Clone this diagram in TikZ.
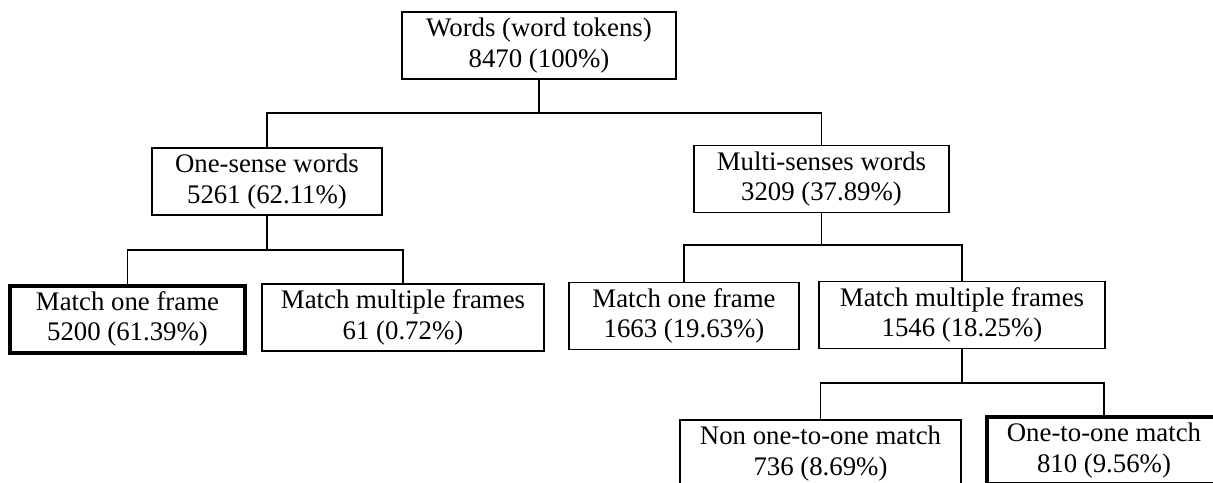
\documentclass[tikz,border=0pt]{standalone}
\usepackage{fontspec}
\setmainfont{Liberation Serif}
\usepackage{tikz}
\usetikzlibrary{positioning}

\begin{document}
\begin{tikzpicture}[
    x=1pt, y=-1pt,
    box/.style={draw, line width=1.3pt, align=center, minimum height=67pt, inner sep=2pt,
                font=\fontsize{26.8}{30.5}\selectfont},
    hit/.style={box, line width=4pt},
    link/.style={line width=1.3pt}
]

    % Cadre de la page (coupe les deux cases du bas)
    \clip (0,0) rectangle (1213,482);
    \fill[white] (0,0) rectangle (1213,482);

    % ── Niveau 0 ──
    \node[box, minimum width=274pt] (words) at (539,45.5) {Words (word tokens)\\8470 (100\%)};

    % ── Niveau 1 ──
    \node[box, minimum width=230pt] (one)   at (267,181.5) {One-sense words\\5261 (62.11\%)};
    \node[box, minimum width=255pt] (multi) at (821.5,179) {Multi-senses words\\3209 (37.89\%)};

    % ── Niveau 2 ──
    \node[hit, minimum width=235pt] (oneOne)   at (127.5,319) {Match one frame\\5200 (61.39\%)};
    \node[box, minimum width=282pt] (oneMulti) at (403,317.5) {Match multiple frames\\61 (0.72\%)};
    \node[box, minimum width=230pt] (mulOne)   at (684,316)   {Match one frame\\1663 (19.63\%)};
    \node[box, minimum width=286pt] (mulMulti) at (962,315)   {Match multiple frames\\1546 (18.25\%)};

    % ── Niveau 3 (coup\'e en bas) ──
    \node[box, minimum width=281pt] (nonOto) at (820.5,453.5) {Non one-to-one match\\736 (8.69\%)};
    \node[hit, minimum width=234pt] (oto)    at (1104,450.5)  {One-to-one match\\810 (9.56\%)};

    % ── Barres de liaison ──
    \coordinate (barWords) at (539,113);
    \coordinate (barOne)   at (267,250);
    \coordinate (barMulti) at (821.5,245);
    \coordinate (barMM)    at (962,383);

    \draw[link] (words.south) -- (barWords);
    \draw[link] (one.north) |- (barWords) -| (multi.north);

    \draw[link] (one.south) -- (barOne);
    \draw[link] (oneOne.north) |- (barOne) -| (oneMulti.north);

    \draw[link] (multi.south) -- (barMulti);
    \draw[link] (mulOne.north) |- (barMulti) -| (mulMulti.north);

    \draw[link] (mulMulti.south) -- (barMM);
    \draw[link] (nonOto.north) |- (barMM) -| (oto.north);

\end{tikzpicture}
\end{document}
